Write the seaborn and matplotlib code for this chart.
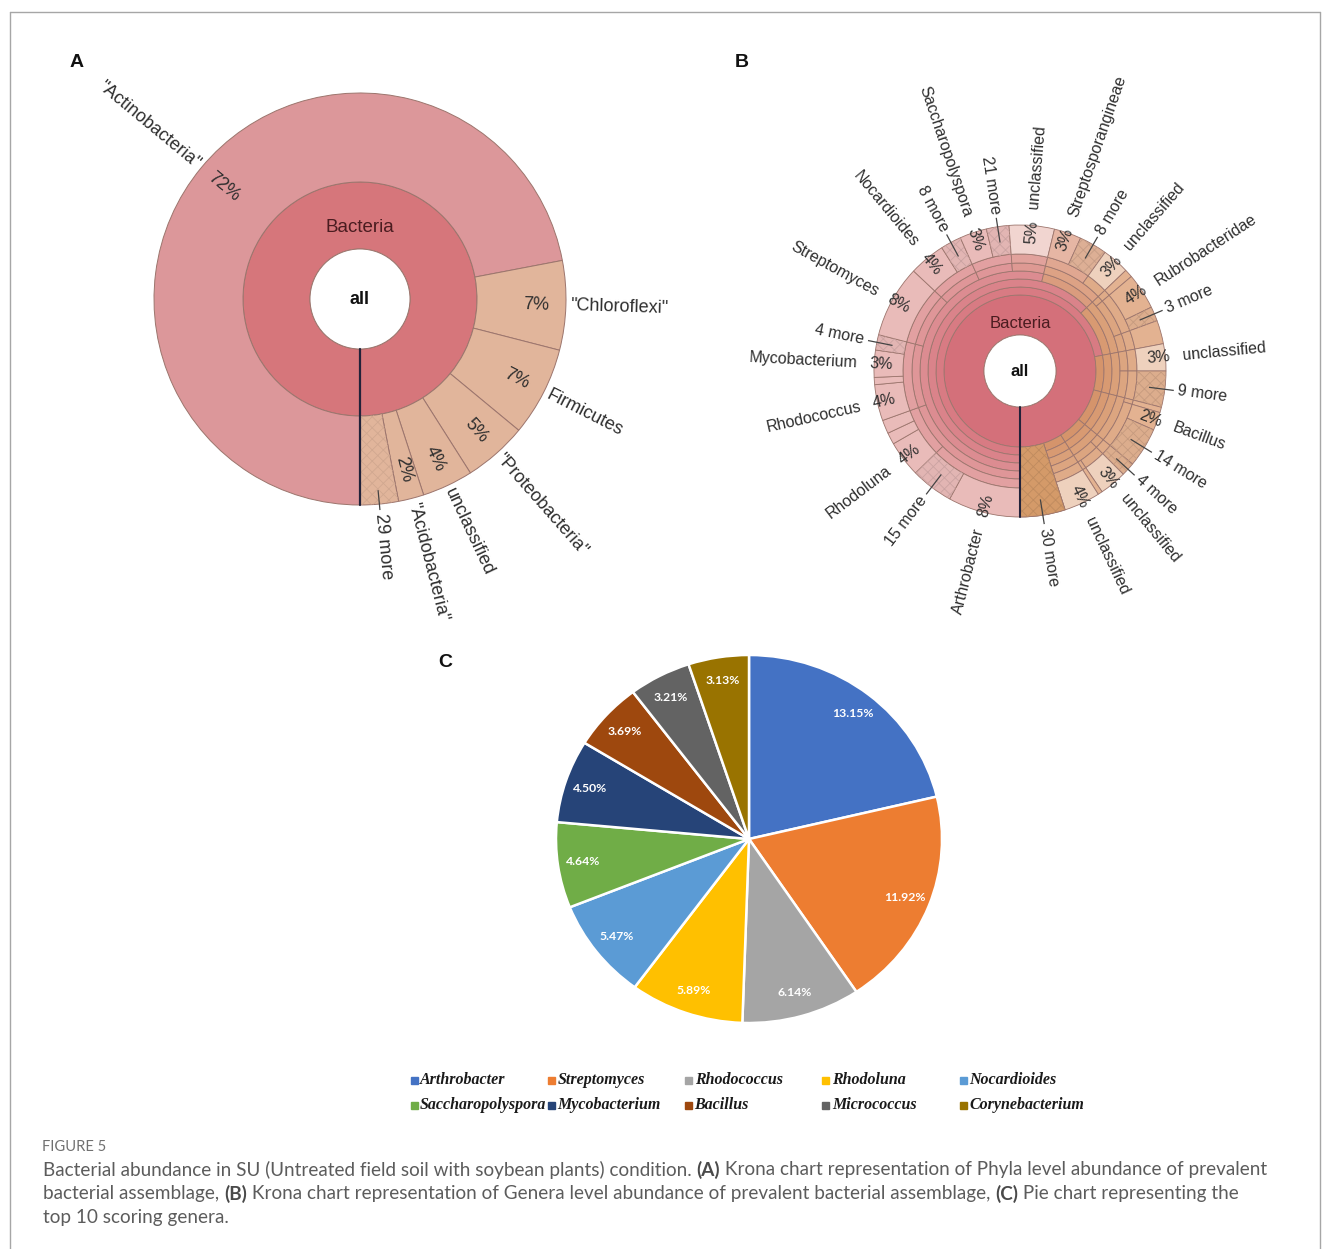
import numpy as np
import matplotlib
matplotlib.use("Agg")
import matplotlib.pyplot as plt
import matplotlib.colors as mcolors
from matplotlib import font_manager
from matplotlib.patches import Circle, Rectangle
import seaborn as sns

sns.set_theme(style="white")
plt.rcParams["font.family"] = ["Liberation Sans", "DejaVu Sans"]
plt.rcParams["hatch.linewidth"] = 0.6

W, H, DPI = 1331, 1249, 100

# ---------------- Panel A: phylum-level Krona ----------------
phyla = ['"Actinobacteria"', '"Chloroflexi"', 'Firmicutes', '"Proteobacteria"',
         'unclassified', '"Acidobacteria"', '29 more']
phyla_pct = [72, 7, 7, 5, 4, 2, 3]

# ---------------- Panel B: genus-level Krona (clockwise from 6 o'clock) ----------------
genera = ["Arthrobacter", "15 more", "Rhodoluna", "", "", "Rhodococcus", "",
          "Mycobacterium", "4 more", "Streptomyces", "Nocardioides", "8 more",
          "Saccharopolyspora", "21 more", "unclassified", "Streptosporangineae",
          "8 more", "unclassified", "", "Rubrobacteridae", "3 more", "",
          "unclassified", "9 more", "", "Bacillus", "14 more", "4 more",
          "unclassified", "", "unclassified", "30 more"]
genera_pct = [8.0, 4.7, 4.0, 1.3, 1.5, 4.0, 0.8, 3.0, 1.7, 8.0, 4.0, 2.3,
              3.0, 2.5, 5.0, 3.0, 3.1, 3.0, 0.9, 4.0, 1.6, 2.6,
              3.0, 4.0, 0.6, 2.0, 4.4, 1.5, 3.0, 0.5, 4.0, 5.0]
# intermediate ranks between Bacteria and genus (phylum -> family)
rank_phylum = [72, 7, 7, 5, 4, 5]
rank_class = [62.9, 9.1, 7, 7, 5, 4, 5]
rank_order = [53.8, 9.1, 9.1, 7, 7, 5, 4, 5]
rank_suborder = [19.5, 9.5, 8, 6.3, 5.5, 5, 9.1, 0.9, 5.6, 2.6, 3, 4, 7, 1.5, 3.5, 4, 5]
rank_family = [12.7, 6.8, 9.5, 8, 6.3, 5.5, 5, 6.1, 3, 0.9, 5.6, 2.6, 3, 4,
               0.6, 6.4, 1.5, 3, 0.5, 4, 5]

# ---------------- Panel C: top 10 genera ----------------
top_genera = ["Arthrobacter", "Streptomyces", "Rhodococcus", "Rhodoluna", "Nocardioides",
              "Saccharopolyspora", "Mycobacterium", "Bacillus", "Micrococcus", "Corynebacterium"]
top_pct = [13.15, 11.92, 6.14, 5.89, 5.47, 4.64, 4.50, 3.69, 3.21, 3.13]
top_colors = ["#4472C4", "#ED7D31", "#A5A5A5", "#FFC000", "#5B9BD5",
              "#70AD47", "#264478", "#9E480E", "#636363", "#997300"]

caption_head = "FIGURE 5"
caption_lines = [
    [("Bacterial abundance in SU (Untreated field soil with soybean plants) condition. ", "normal"),
     ("(A)", "bold"),
     (" Krona chart representation of Phyla level abundance of prevalent", "normal")],
    [("bacterial assemblage, ", "normal"), ("(B)", "bold"),
     (" Krona chart representation of Genera level abundance of prevalent bacterial assemblage, ", "normal"),
     ("(C)", "bold"), (" Pie chart representing the", "normal")],
    [("top 10 scoring genera.", "normal")],
]

TXT = "#2e2e2e"
EDGE = "#9c756d"
A_BACT, A_ACT, A_TAN = "#d6767b", "#dc979a", "#e1b59b"
PINK = ["#d4707a", "#d87b83", "#da838a", "#dc8c91", "#df9698", "#e2a0a1", "#e9bbb9"]
TAN = ["#d4707a", "#d5946b", "#d89a72", "#daa079", "#dca580", "#dfab88", "#e3b291"]
B_MORE = "#d49a69"


def pick_font(candidates):
    for fam in candidates:
        try:
            font_manager.findfont(font_manager.FontProperties(family=fam),
                                  fallback_to_default=False)
            return fam
        except Exception:
            continue
    return "DejaVu Sans"


CAP_FONT = pick_font(["Liberation Sans Narrow", "Lato"])

fig = plt.figure(figsize=(W / DPI, H / DPI), dpi=DPI)
fig.patch.set_facecolor("white")


def panel_axes(cx, cy, hw, hh):
    return fig.add_axes([(cx - hw) / W, 1 - (cy + hh) / H, 2 * hw / W, 2 * hh / H])


def finish(ax, hw, hh):
    ax.set_aspect("auto")
    ax.set_xlim(-hw, hw)
    ax.set_ylim(-hh, hh)
    ax.axis("off")


def cw_mids(values):
    v = np.asarray(values, float)
    return (np.cumsum(v) - v / 2) / v.sum() * 360.0


def ring(ax, values, r_out, r_in, colors, lw=0.7, ec=EDGE, z=2):
    wedges, _ = ax.pie(values, radius=r_out, startangle=-90, counterclock=False,
                       colors=colors,
                       wedgeprops=dict(width=r_out - r_in, edgecolor=ec, linewidth=lw, zorder=z))
    return wedges


def hatch_ring(ax, values, r_out, r_in, mask, colors, z=3):
    wedges, _ = ax.pie(values, radius=r_out, startangle=-90, counterclock=False,
                       colors=["none"] * len(values),
                       wedgeprops=dict(width=r_out - r_in, linewidth=0, zorder=z))
    for w, m, c in zip(wedges, mask, colors):
        if m:
            w.set_hatch("xxx")
            w.set_edgecolor(c)
        else:
            w.set_visible(False)


def darker(c, f=0.9):
    r, g, b = mcolors.to_rgb(c)
    return (r * f, g * f, b * f)


def lighter(c, f=0.45):
    rgb = np.array(mcolors.to_rgb(c))
    return tuple(rgb + (1 - rgb) * f)


def radial_text(ax, theta_cw, r, s, size, align, **kw):
    phi = -90.0 - theta_cw
    pr = np.deg2rad(phi)
    x, y = r * np.cos(pr), r * np.sin(pr)
    right = np.cos(pr) >= -1e-9
    rot = phi if right else phi + 180
    rot = (rot + 180) % 360 - 180
    if align == "center":
        ha = "center"
    else:
        ha = "left" if right else "right"
    ax.text(x, y, s, rotation=rot, rotation_mode="anchor", ha=ha, va="center",
            fontsize=size, color=TXT, zorder=8, **kw)


def leader(ax, theta_cw, r1, r2):
    pr = np.deg2rad(-90.0 - theta_cw)
    ax.plot([r1 * np.cos(pr), r2 * np.cos(pr)], [r1 * np.sin(pr), r2 * np.sin(pr)],
            color="#444444", lw=0.9, zorder=8, solid_capstyle="butt")


# ======================= Panel A =======================
A_hw = 330
axA = panel_axes(360, 299, A_hw, A_hw)
RA = dict(all=50, bact=117, out=206)
ring(axA, [1], RA["bact"], RA["all"], [A_BACT])
colsA = [A_ACT] + [A_TAN] * (len(phyla_pct) - 1)
ring(axA, phyla_pct, RA["out"], RA["bact"], colsA)
hatch_ring(axA, phyla_pct, RA["out"], RA["bact"], ["more" in n for n in phyla],
           [darker(c, 0.93) for c in colsA])
axA.add_patch(Circle((0, 0), RA["all"], fc="white", ec=EDGE, lw=0.7, zorder=4))
axA.plot([0, 0], [-RA["all"], -RA["out"]], color="#22223a", lw=1.6, zorder=5)
for name, v, th in zip(phyla, phyla_pct, cw_mids(phyla_pct)):
    if "more" in name:
        leader(axA, th, RA["out"] - 14, RA["out"] + 6)
        radial_text(axA, th, RA["out"] + 10, name, 13, "start")
    else:
        radial_text(axA, th, RA["out"] * 0.855, f"{v}%", 13, "center")
        radial_text(axA, th, RA["out"] + 4, name, 13, "start")
axA.text(0, 71, "Bacteria", ha="center", va="center", fontsize=13.5, color="#4a1c20", zorder=8)
axA.text(0, 0, "all", ha="center", va="center", fontsize=13, fontweight="bold", color="#111111", zorder=8)
finish(axA, A_hw, A_hw)

# ======================= Panel B =======================
B_hw, B_hh = 300, 330
axB = panel_axes(1020, 371, B_hw, B_hh)
radii = [36, 76, 84, 92, 100, 108, 117, 146]


def hue_mix(theta, depth):
    t = float(np.clip((theta - 175.0) / 45.0, 0, 1))
    p, q = np.array(mcolors.to_rgb(PINK[depth])), np.array(mcolors.to_rgb(TAN[depth]))
    return tuple((1 - t) * p + t * q)


ring(axB, [1], radii[1], radii[0], [PINK[0]], lw=0.6)
ranks = [rank_phylum, rank_class, rank_order, rank_suborder, rank_family]
for k, vals in enumerate(ranks):
    cols = [hue_mix(th, k + 1) for th in cw_mids(vals)]
    ring(axB, vals, radii[k + 2], radii[k + 1], cols, lw=0.6)

g_cols = []
for name, th in zip(genera, cw_mids(genera_pct)):
    c = hue_mix(th, 6)
    if name == "unclassified":
        c = lighter(c, 0.4)
    elif "more" in name:
        c = darker(c, 0.97)
    g_cols.append(c)
ring(axB, genera_pct, radii[-1], radii[-2], g_cols, lw=0.6)
hatch_ring(axB, genera_pct, radii[-1], radii[-2], ["more" in n for n in genera],
           [darker(c, 0.9) for c in g_cols])

# collapsed phyla ("30 more") run through every rank down to the Bacteria ring
collapsed = genera_pct[-1]
wz = ring(axB, [100 - collapsed, collapsed], radii[-1], radii[1], ["none", B_MORE], lw=0.6, z=4)
wz[0].set_visible(False)
hatch_ring(axB, [100 - collapsed, collapsed], radii[-1], radii[1], [False, True],
           [None, darker(B_MORE, 0.9)], z=5)

axB.add_patch(Circle((0, 0), radii[0], fc="white", ec=EDGE, lw=0.6, zorder=6))
axB.plot([0, 0], [-radii[0], -radii[-1]], color="#22223a", lw=1.5, zorder=7)

for name, v, th in zip(genera, genera_pct, cw_mids(genera_pct)):
    if not name:
        continue
    if "more" in name:
        leader(axB, th, radii[-1] - 16, radii[-1] + 9)
        radial_text(axB, th, radii[-1] + 13, name, 11.5, "start")
    else:
        radial_text(axB, th, radii[-1] - 7, f"{round(v)}%", 11.5, "center")
        radial_text(axB, th, radii[-1] + 17, name, 11.5, "start")
axB.text(0, 47, "Bacteria", ha="center", va="center", fontsize=12, color="#4a1c20", zorder=8)
axB.text(0, 0, "all", ha="center", va="center", fontsize=12, fontweight="bold", color="#111111", zorder=8)
finish(axB, B_hw, B_hh)

# ======================= Panel C =======================
palette = sns.color_palette(top_colors)
C_hw, C_hh, C_rx, C_ry = 250, 230, 193, 184
axC = panel_axes(749, 839, C_hw, C_hh)
axC.pie(top_pct, startangle=90, counterclock=False, colors=palette,
        labels=[f"{v:.2f}%" for v in top_pct], labeldistance=0.87,
        textprops=dict(color="white", fontsize=8.8, fontweight="bold",
                       ha="center", va="center", family="Lato"),
        wedgeprops=dict(edgecolor="white", linewidth=1.8))
axC.set_aspect("auto")
axC.set_xlim(-C_hw / C_rx, C_hw / C_rx)
axC.set_ylim(-C_hh / C_ry, C_hh / C_ry)
axC.axis("off")

# ======================= Overlay: frame, letters, legend, caption =======================
ov = fig.add_axes([0, 0, 1, 1], zorder=10)
ov.set_xlim(0, W)
ov.set_ylim(H, 0)
ov.axis("off")
frame_kw = dict(color="#a6a6a6", lw=1.0)
ov.plot([10, 10], [12, H], **frame_kw)
ov.plot([10, 1320], [12, 12], **frame_kw)
ov.plot([1320, 1320], [12, H], **frame_kw)

for letter, x, y in [("A", 77, 62), ("B", 742, 62), ("C", 445, 662)]:
    ov.text(x, y, letter, ha="center", va="center", fontsize=14, fontweight="bold", color="#111111")

for i, (name, col) in enumerate(zip(top_genera, palette)):
    row, cidx = divmod(i, 5)
    x = 414 + cidx * 137.3
    y = 1080 + row * 25
    ov.add_patch(Rectangle((x - 3.5, y - 3.5), 7, 7, color=col))
    ov.text(x + 6, y, name, fontsize=11.5, family="Liberation Serif", style="italic",
            fontweight="bold", ha="left", va="center", color="#1a1a1a")

renderer = fig.canvas.get_renderer()


def run_width(s, size, weight):
    t1 = ov.text(0, 0, s + "|", fontsize=size, fontweight=weight, family=CAP_FONT)
    t2 = ov.text(0, 0, "|", fontsize=size, fontweight=weight, family=CAP_FONT)
    w = t1.get_window_extent(renderer).width - t2.get_window_extent(renderer).width
    t1.remove()
    t2.remove()
    return w


base = 12.0
w1 = sum(run_width(s, base, wt) for s, wt in caption_lines[0])
cap_size = base * 1222.0 / w1

ov.text(42, 1147, caption_head, fontsize=cap_size * 0.78, family=CAP_FONT,
        color="#707070", ha="left", va="center")
for li, runs in enumerate(caption_lines):
    x = 43.0
    y = 1170 + li * 24
    for s, wt in runs:
        ov.text(x, y, s, fontsize=cap_size, fontweight=wt, family=CAP_FONT,
                color="#4a4a4a" if wt == "bold" else "#5c5c5c", ha="left", va="center")
        x += run_width(s, cap_size, wt)

fig.savefig("out.png", dpi=DPI, facecolor="white")
